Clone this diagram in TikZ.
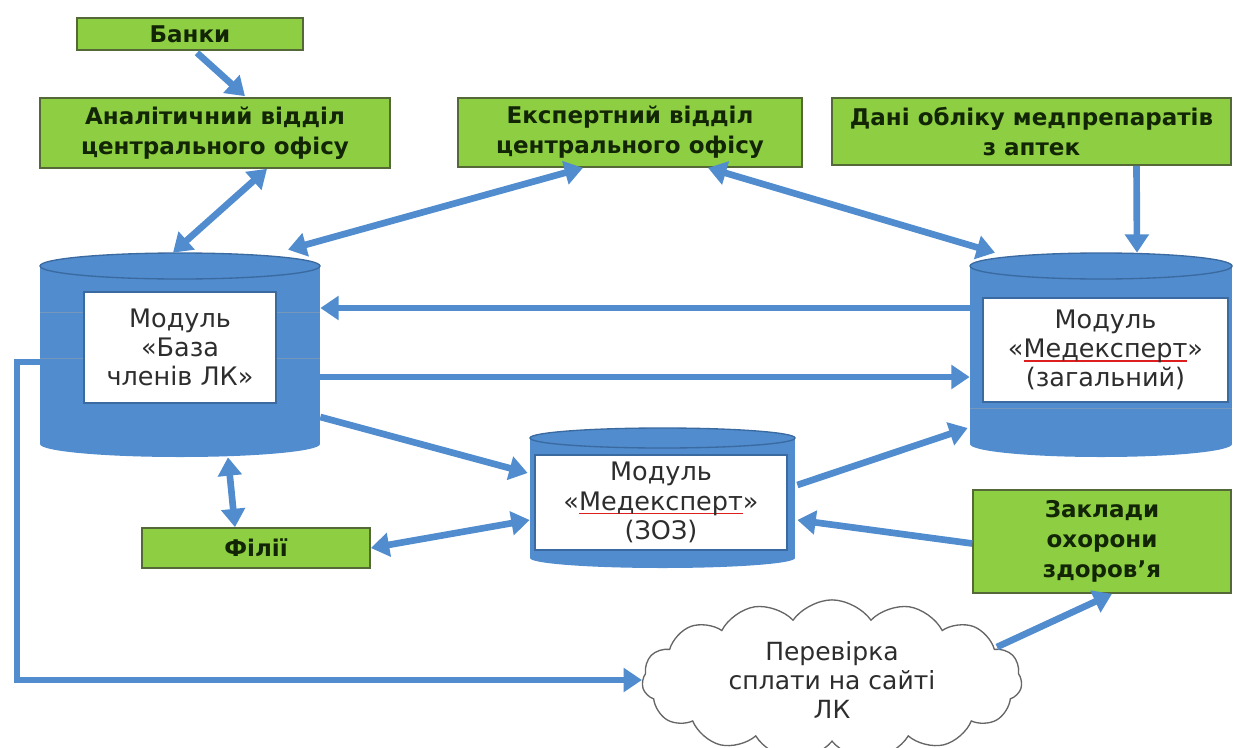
\documentclass[tikz,border=0pt]{standalone}
\usepackage{fontspec}
\setmainfont{DejaVu Sans}
\usetikzlibrary{arrows.meta}
\usetikzlibrary{positioning}
\usetikzlibrary{fit}
\usetikzlibrary{calc}
\usetikzlibrary{shapes.symbols}
\definecolor{verde}{RGB}{141,206,66}
\definecolor{verdebordo}{RGB}{84,104,56}
\definecolor{verdetesto}{RGB}{18,38,6}
\definecolor{blu}{RGB}{80,140,206}
\definecolor{blubordo}{RGB}{58,106,160}
\definecolor{grigio}{RGB}{45,45,45}
\definecolor{rosso}{RGB}{220,30,30}
\newcommand{\px}{0.6pt}
\tikzset{
  green box/.style={rectangle, fill=verde, draw=verdebordo, line width=1pt,
    inner sep=0pt, align=center, text=verdetesto,
    font={\fontsize{13.8}{18}\selectfont\bfseries}},
  white box/.style={rectangle, fill=white, draw=blubordo, line width=1pt,
    inner sep=0pt, align=center, text=grigio,
    font={\fontsize{15.3}{17.5}\selectfont}},
  size/.style 2 args={minimum width=#1*\px, minimum height=#2*\px},
  flow/.style={draw=blu, line width=4pt,
    -{Triangle[width=14pt,length=11pt]}},
  both ways/.style={flow,
    {Triangle[width=14pt,length=11pt]}-{Triangle[width=14pt,length=11pt]}},
}
\newcommand{\spellmark}[1]{{\setbox0\hbox{#1}\rlap{\color{rosso}\rule[-2.5pt]{\wd0}{0.8pt}}\box0}}
% cylinder: name, left, top, right, bottom, end radius
\newcommand{\dbcyl}[6]{
    \node[inner sep=0pt, fit={(#2,#3) (#4,#5)}] (#1) {};
    \fill[blu] (#2,#3+#6) rectangle (#4,#5-#6);
    \fill[blu] ({(#2+#4)/2},#5-#6) ellipse [x radius={(#4-#2)/2}, y radius=#6];
    \fill[blu] ({(#2+#4)/2},#3+#6) ellipse [x radius={(#4-#2)/2}, y radius=#6];
    \draw[blubordo, line width=0.8pt] ({(#2+#4)/2},#3+#6) ellipse [x radius={(#4-#2)/2}, y radius=#6];
}

\begin{document}
\begin{tikzpicture}[x=\px, y=-\px]
    \useasboundingbox (0,0) rectangle (1234,747);

    % green boxes
    \node[green box, size={226}{32}] (banky) at (190,34) {Банки};
    \node[green box, size={350}{70}] (analit) at (215,133) {Аналітичний відділ\\центрального офісу};
    \node[green box, size={344}{69}] (expert) at (630,132.5) {Експертний відділ\\центрального офісу};
    \node[green box, size={399}{67}] (data) at (1031.5,131.5) {Дані обліку медпрепаратів\\з аптек};
    \node[green box, size={228}{40}] (filii) at (256,548) {Філії};
    \node[green box, size={258}{103}] (zaklady) at (1102,541.5) {Заклади\\охорони\\здоров’я};

    % cylinders
    \dbcyl{dbL}{40}{253}{320}{457}{13}
    \dbcyl{dbR}{970}{253}{1232}{457}{13}
    \dbcyl{dbM}{530}{428}{795}{568}{10}
    \draw[blubordo!70, line width=0.6pt] (40,312) -- (320,312) (40,358) -- (320,358);
    \draw[blubordo!70, line width=0.6pt] (970,408) -- (1232,408);

    \node[white box, size={192}{111}] (baza) at (180,347.5) {Модуль\\«База\\членів ЛК»};
    \node[white box, size={245}{104}] (medgen) at (1105.5,350) {Модуль\\«\spellmark{Медексперт}»\\(загальний)};
    \node[white box, size={252}{95}] (medzoz) at (661,502.5) {Модуль\\«\spellmark{Медексперт}»\\(ЗОЗ)};

    \node[cloud, cloud puffs=15, cloud puff arc=110, aspect=2.8, draw=gray!80!black,
        line width=0.8pt, fill=white, size={380}{134},
        align=center, text=grigio, font={\fontsize{15}{17.5}\selectfont}]
        (cloud) at (832,680) {Перевірка\\сплати на сайті\\ЛК};

    % connectors
    \draw[flow] ($(banky.south)+(7,2)$) -- ($(analit.north)+(30,-1)$);
    \draw[both ways] ($(analit.south)+(52,0)$) -- ($(dbL.north)+(-7,0)$);
    \draw[both ways] ($(expert.south)+(-47,0)$) -- ($(dbL.north)+(108,-3)$);
    \draw[both ways] ($(expert.south)+(78,0)$) -- ($(dbR.north)+(-106,0)$);
    \draw[flow] ($(data.south)+(105,0)$) -- ($(dbR.north)+(36,0)$);
    \draw[flow] ($(dbR.west)+(0,-47)$) -- ($(dbL.east)+(0,-47)$);
    \draw[flow] ($(dbL.east)+(0,22)$) -- ($(dbR.west)+(0,22)$);
    \draw[flow] ($(dbL.east)+(0,62)$) -- ($(dbM.west)+(-2,-25)$);
    \draw[flow] ($(dbM.east)+(2,-13)$) -- ($(dbR.west)+(-2,73)$);
    \draw[flow] ($(zaklady.west)+(0,2)$) -- ($(dbM.east)+(2,22)$);
    \draw[both ways] (filii.east) -- ($(dbM.west)+(0,22)$);
    \draw[both ways] ($(dbL.south)+(48,0)$) -- ($(filii.north)+(-21,0)$);
    \draw[flow, line width=3.5pt] ($(dbL.west)+(0,7)$) -- ++(-23,0) |- (cloud.west);
    \draw[flow] ($(cloud.center)+(165,-33)$) -- ($(zaklady.south)+(10,0)$);
\end{tikzpicture}
\end{document}
